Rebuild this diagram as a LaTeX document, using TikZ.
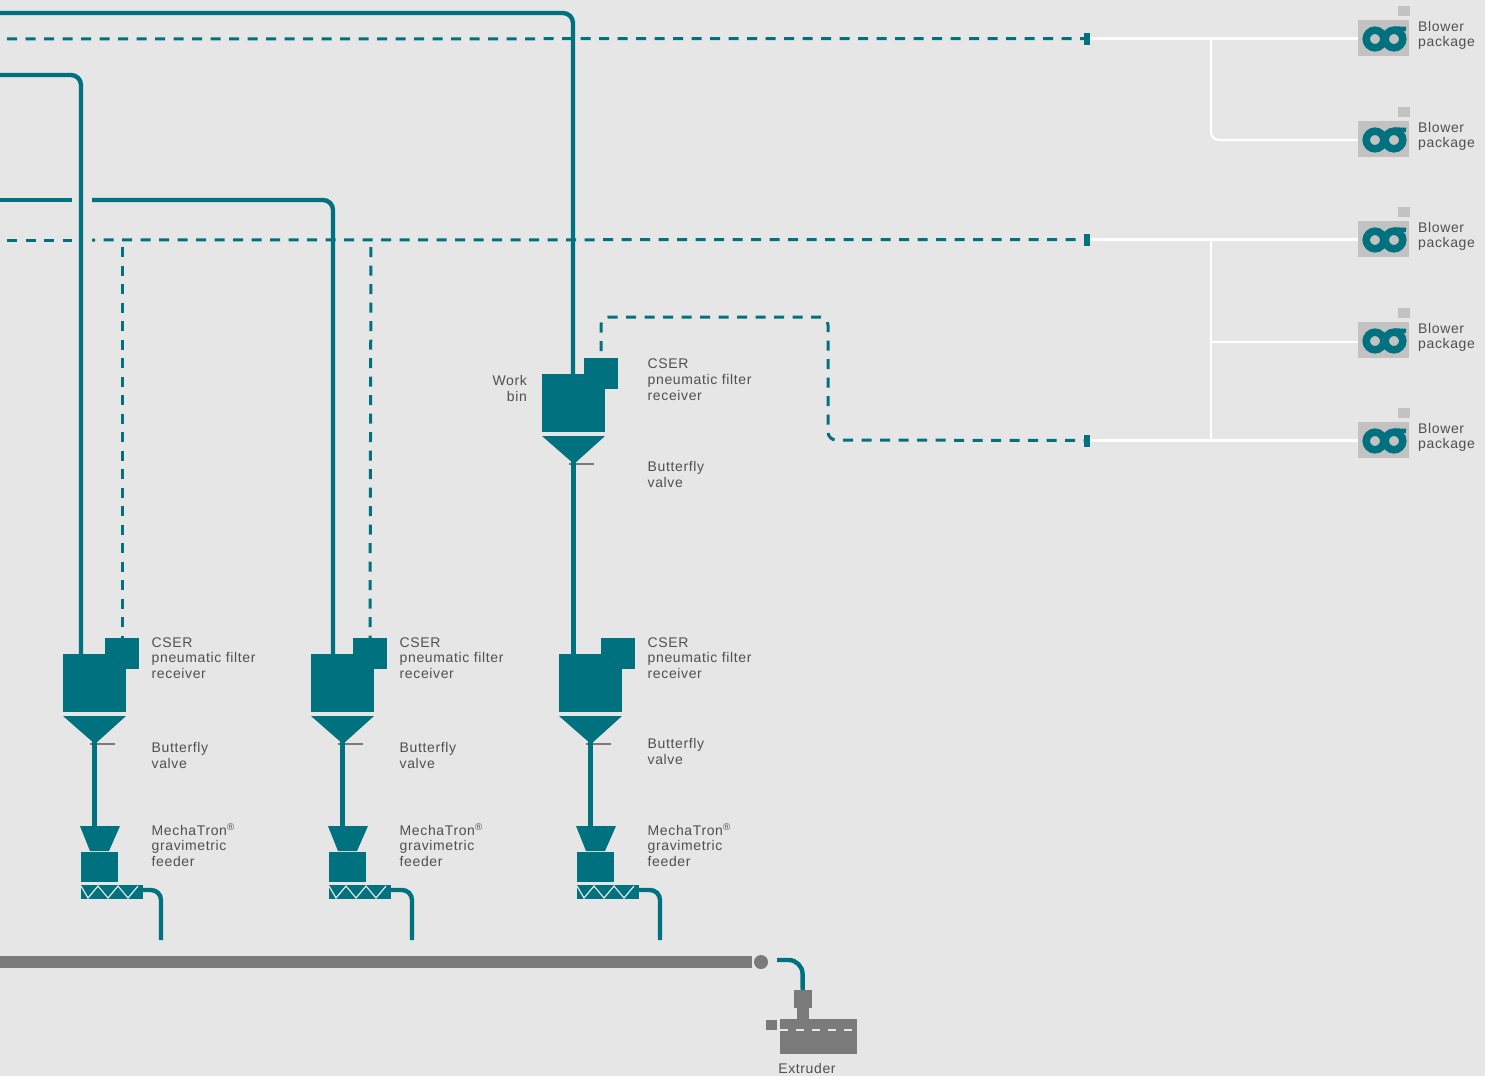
\documentclass[tikz,border=0pt]{standalone}
\usepackage{fontspec}
\setmainfont{Liberation Sans}[LetterSpace=4.5]
\definecolor{bgc}{HTML}{E6E6E6}
\definecolor{tealc}{HTML}{00727F}
\definecolor{greyc}{HTML}{7A7A7A}
\definecolor{boxc}{HTML}{C2C2C2}
\definecolor{txtc}{HTML}{505050}
\tikzset{
  block/.style={fill=tealc,draw=none,inner sep=0,anchor=north west},
  greyblock/.style={fill=greyc,draw=none,inner sep=0,anchor=north west},
  pipe/.style={draw=tealc,line width=4.4pt,rounded corners=10pt},
  straightpipe/.style={draw=tealc,line width=4.4pt},
  dashpipe/.style={draw=tealc,line width=3pt,dash pattern=on 10pt off 8.5pt,dash phase=11.5pt,rounded corners=8pt},
  whitepipe/.style={draw=white,line width=2.4pt,rounded corners=8pt},
  lbl/.style={inner sep=0,anchor=west,align=left,text=txtc,font=\fontsize{14}{15.7}\selectfont},
  lblr/.style={inner sep=0,anchor=east,align=right,text=txtc,font=\fontsize{14}{15.7}\selectfont},
}
\newcommand{\receiverunit}[3]{%
  \begin{scope}[shift={(#2,#3)}]
    \node[block,minimum width=63pt,minimum height=58pt] (#1bin) at (63,654) {};
    \node[block,minimum width=34pt,minimum height=31pt] (#1top) at (105,638) {};
    \fill[tealc] (63,716) -- (126,716) -- (95,744) -- cycle;
    \coordinate (#1in) at (81,654);
    \coordinate (#1vent) at (122,638);
    \coordinate (#1apex) at (94.5,741);
    \draw[greyc,line width=2pt] (90,744) -- (115,744);
  \end{scope}
}
\newcommand{\feederunit}[3]{%
  \begin{scope}[shift={(#2,0)}]
    \fill[tealc] (80,826) -- (120,826) -- (109,851) -- (90,851) -- cycle;
    \node[block,minimum width=37pt,minimum height=30pt] (#1box) at (81,852) {};
    \node[block,minimum width=62pt,minimum height=14pt] (#1screw) at (81,885) {};
    \draw[bgc,line width=1.2pt] (81,886) -- (88,898) -- (98,886) -- (108,898) -- (118,886) -- (128,898) -- (138,886);
    \coordinate (#1feedin) at (94.5,826);
    \coordinate (#1out) at (143,890);
    \coordinate (#1end) at (#3,940);
    \draw[pipe] (#1out) -- (#3,890) -- (#1end);
  \end{scope}
}
\newcommand{\blowerunit}[2]{%
  \node[fill=boxc,inner sep=0,minimum width=51pt,minimum height=36pt] (#1) at (1383.5,#2) {};
  \fill[boxc] (1398,#2-32) rectangle (1410,#2-22);
  \draw[tealc,line width=7.5pt] (1375,#2+1) circle (8.8pt);
  \draw[tealc,line width=7.5pt] (1394,#2+1) circle (8.8pt);
  \draw[tealc,line width=4.5pt] (1394,#2-9.5) -- (1406,#2-9);
  \node[lbl,font=\fontsize{14}{15}\selectfont] (#1t) at (1418,#2-3) {Blower\\package};
}
\begin{document}
\begin{tikzpicture}[x=1pt,y=-1pt]
\useasboundingbox (0,0) rectangle (1485,1076);
\fill[bgc] (0,0) rectangle (1485,1076);

% free ends on the left edge
\coordinate (a0) at (0,13);
\coordinate (b0) at (0,75);
\coordinate (c0) at (0,200);
\coordinate (c1) at (72,200);
\coordinate (c2) at (92,200);
\coordinate (d0) at (0,39);
\coordinate (e0) at (0,240);
\coordinate (e1) at (72,240);
\coordinate (e2) at (92,240);
\coordinate (j1) at (122,240);
\coordinate (j2) at (371,240);

% equipment
\receiverunit{wb}{479}{-280}
\receiverunit{u1}{0}{0}
\receiverunit{u2}{248}{0}
\receiverunit{u3}{496}{0}
\feederunit{f1}{0}{161}
\feederunit{f2}{248}{164}
\feederunit{f3}{496}{164}

% header ends
\node[fill=tealc,inner sep=0,minimum width=6pt,minimum height=12pt] (s1) at (1087,38.5) {};
\node[fill=tealc,inner sep=0,minimum width=6pt,minimum height=12pt] (s2) at (1087,239.5) {};
\node[fill=tealc,inner sep=0,minimum width=6pt,minimum height=12pt] (s3) at (1087,440.5) {};

% blowers
\blowerunit{b1}{38}
\blowerunit{b2}{139}
\blowerunit{b3}{239}
\blowerunit{b4}{340}
\blowerunit{b5}{440}

% white air lines
\coordinate (w1) at (1211,39);
\coordinate (w1b) at (1211,140);
\coordinate (w2) at (1211,240);
\coordinate (w3) at (1211,342);
\coordinate (w4) at (1211,440);
\draw[whitepipe] (s1.east) -- (b1.west |- s1.east);
\draw[whitepipe] (w1) -- (w1b) -- (b2.west |- w1b);
\draw[whitepipe] (s2.east) -- (b3.west |- s2.east);
\draw[whitepipe] (w2) -- (w4);
\draw[whitepipe] (w3) -- (b4.west |- w3);
\draw[whitepipe] (s3.east) -- (b5.west |- s3.east);

% dashed vacuum lines
\draw[dashpipe] (d0) -- (s1.west);
\draw[dashpipe] (e0) -- (e1);
\draw[dashpipe,dash phase=7pt] (e2) -- (s2.west);
\draw[dashpipe] (j1) -- (u1vent);
\draw[dashpipe] (j2) -- (u2vent);
\draw[dashpipe] (wbtop.north -| 601,0) -- (601,317) -- (828,317) -- (828,440) -- (s3.west);

% solid conveying lines
\draw[pipe] (a0) -- (573,13) -- (wbin -| 573,0);
\draw[pipe] (b0) -- (81,75) -- (u1in);
\draw[pipe] (c0) -- (c1);
\draw[pipe] (c2) -- (333,200) -- (u2in -| 333,0);
\draw[straightpipe] (wbapex) -- (u3bin.north -| wbapex);
\draw[straightpipe] (u1apex) -- (f1feedin);
\draw[straightpipe] (u2apex) -- (f2feedin);
\draw[straightpipe] (u3apex) -- (f3feedin);

% collector and extruder
\coordinate (g0) at (0,962);
\node[circle,fill=greyc,inner sep=0,minimum size=14pt] (gc) at (761,962) {};
\coordinate (g1) at (752,962);
\draw[greyc,line width=12pt] (g0) -- (g1);
\node[greyblock,minimum width=77pt,minimum height=35pt] (ex) at (780,1019) {};
\node[greyblock,minimum width=18pt,minimum height=18pt] (neck) at (793.5,990) {};
\fill[greyc] (797,1006) rectangle (809,1020);
\node[greyblock,minimum width=11pt,minimum height=10pt] (exs) at (765.5,1019.5) {};
\coordinate (dl) at (780,1030);
\draw[bgc,line width=1.8pt,dash pattern=on 8pt off 8pt] (dl) -- (dl -| ex.east);
\coordinate (t0) at (777,960);
\draw[pipe,rounded corners=14pt] (t0) -- (802.5,960) -- (neck.north);

% labels
\node[lblr] at (527,388.5) {Work\\bin};
\node[lbl] at (647.5,379.5) {CSER\\pneumatic filter\\receiver};
\node[lbl] at (647.5,474.5) {Butterfly\\valve};

\node[lbl] at (151.5,658) {CSER\\pneumatic filter\\receiver};
\node[lbl] at (399.5,658) {CSER\\pneumatic filter\\receiver};
\node[lbl] at (647.5,658) {CSER\\pneumatic filter\\receiver};

\node[lbl] at (151.5,755.5) {Butterfly\\valve};
\node[lbl] at (399.5,755.5) {Butterfly\\valve};
\node[lbl] at (647.5,751.5) {Butterfly\\valve};

\node[lbl] at (151.5,845) {MechaTron\textsuperscript{®}\\gravimetric\\feeder};
\node[lbl] at (399.5,845) {MechaTron\textsuperscript{®}\\gravimetric\\feeder};
\node[lbl] at (647.5,845) {MechaTron\textsuperscript{®}\\gravimetric\\feeder};

\node[inner sep=0,text=txtc,font=\fontsize{14}{15}\selectfont] at (807,1068) {Extruder};
\end{tikzpicture}
\end{document}
